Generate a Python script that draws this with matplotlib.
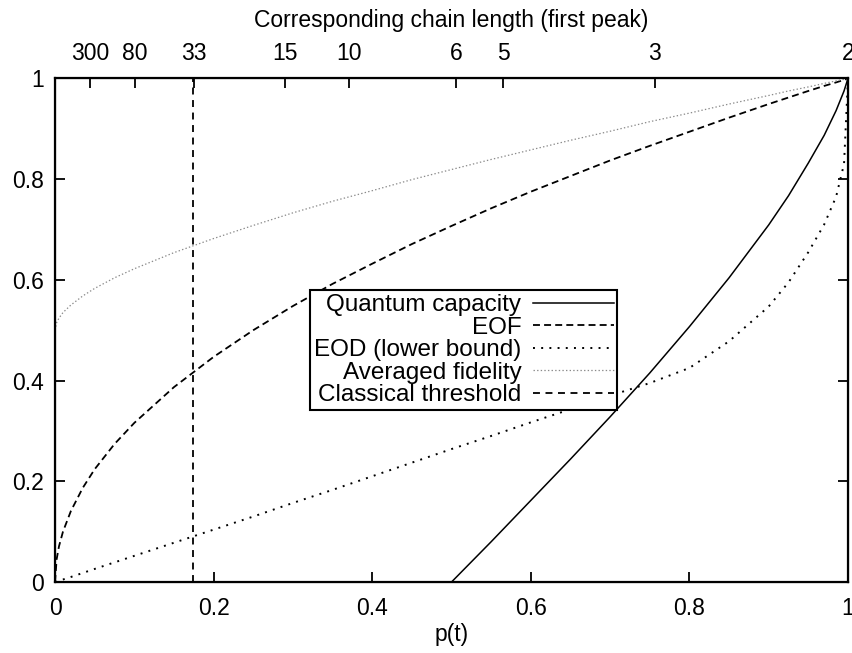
import numpy as np
import matplotlib
matplotlib.use("Agg")
import matplotlib.pyplot as plt

plt.rcParams['font.family'] = ['Liberation Sans', 'DejaVu Sans']
plt.rcParams['lines.scale_dashes'] = False

# transfer probability p(t)
p = [0, 0.002, 0.005, 0.01, 0.02, 0.035, 0.05, 0.075, 0.1, 0.15, 0.2, 0.25,
     0.3, 0.35, 0.4, 0.45, 0.5, 0.55, 0.6, 0.65, 0.7, 0.75, 0.8, 0.85, 0.9,
     0.925, 0.95, 0.97, 0.985, 0.995, 1.0]

quantum_capacity = [0, 0, 0, 0, 0, 0, 0, 0, 0, 0, 0, 0,
                    0, 0, 0, 0, 0, 0.080, 0.162, 0.244, 0.328, 0.415, 0.507, 0.604, 0.709,
                    0.767, 0.832, 0.887, 0.936, 0.975, 1.0]

eof = [0, 0.045, 0.071, 0.10, 0.141, 0.187, 0.224, 0.274, 0.316, 0.387, 0.447, 0.50,
       0.548, 0.592, 0.632, 0.671, 0.707, 0.742, 0.775, 0.806, 0.837, 0.866, 0.894, 0.922, 0.949,
       0.962, 0.975, 0.985, 0.992, 0.997, 1.0]

eod_lower = [0, 0.001, 0.003, 0.005, 0.010, 0.018, 0.026, 0.039, 0.052, 0.078, 0.104, 0.130,
             0.157, 0.183, 0.210, 0.237, 0.264, 0.290, 0.317, 0.343, 0.370, 0.395, 0.425, 0.478, 0.547,
             0.595, 0.655, 0.710, 0.765, 0.830, 1.0]

avg_fidelity = [0.5, 0.515, 0.524, 0.535, 0.550, 0.568, 0.583, 0.604, 0.622, 0.654, 0.682, 0.708,
                0.733, 0.756, 0.777, 0.799, 0.819, 0.839, 0.858, 0.877, 0.895, 0.914, 0.931, 0.949, 0.966,
                0.975, 0.983, 0.990, 0.995, 0.998, 1.0]

# p where the averaged fidelity reaches 2/3
threshold_p = 0.174

# chain length whose first peak gives this p
chain_p = [0.044, 0.101, 0.175, 0.290, 0.371, 0.506, 0.565, 0.756, 1.0]
chain_labels = ['300', '80', '33', '15', '10', '6', '5', '3', '2']

ticks = [0, 0.2, 0.4, 0.6, 0.8, 1]
tick_labels = ['0', '0.2', '0.4', '0.6', '0.8', '1']

fs = 16.5

fig = plt.figure(figsize=(8.52, 6.53), dpi=100)
ax = fig.add_axes([0.0646, 0.1087, 0.9307, 0.7713])

ax.plot(p, quantum_capacity, color='black', lw=1.1, label='Quantum capacity')
ax.plot(p, eof, color='black', lw=1.3, linestyle=(0, (5, 3)), label='EOF')
ax.plot(p, eod_lower, color='black', lw=1.4, linestyle=(0, (1.4, 4.5)), label='EOD (lower bound)')
ax.plot(p, avg_fidelity, color='#8a8a8a', lw=0.9, linestyle=(0, (1, 1.6)), label='Averaged fidelity')
ax.axvline(threshold_p, color='black', lw=1.3, linestyle=(0, (5, 4)), label='Classical threshold')

ax.set_xlim(0, 1)
ax.set_ylim(0, 1)
ax.set_xticks(ticks)
ax.set_xticklabels(tick_labels)
ax.set_yticks(ticks)
ax.set_yticklabels(tick_labels)
ax.tick_params(axis='x', direction='in', length=7, width=1.3, labelsize=fs, pad=11, top=False)
ax.tick_params(axis='y', direction='in', length=7, width=1.3, labelsize=fs, pad=8, right=True)
ax.set_xlabel('p(t)', fontsize=fs, labelpad=2)
for s in ax.spines.values():
    s.set_linewidth(1.6)

top = ax.twiny()
top.set_xlim(0, 1)
top.set_xticks(chain_p)
top.set_xticklabels(chain_labels)
top.tick_params(axis='x', direction='in', length=7, width=1.3, labelsize=fs, pad=9.5)
top.set_xlabel('Corresponding chain length (first peak)', fontsize=fs, labelpad=11)

leg = ax.legend(loc='upper left', bbox_to_anchor=(0.322, 0.579), fontsize=17.5,
                markerfirst=False, fancybox=False, framealpha=1, edgecolor='black',
                borderpad=0.15, labelspacing=0.02, handlelength=3.3, handletextpad=0.5,
                borderaxespad=0)
leg.get_frame().set_linewidth(1.5)

fig.savefig('out.png', dpi=100)
